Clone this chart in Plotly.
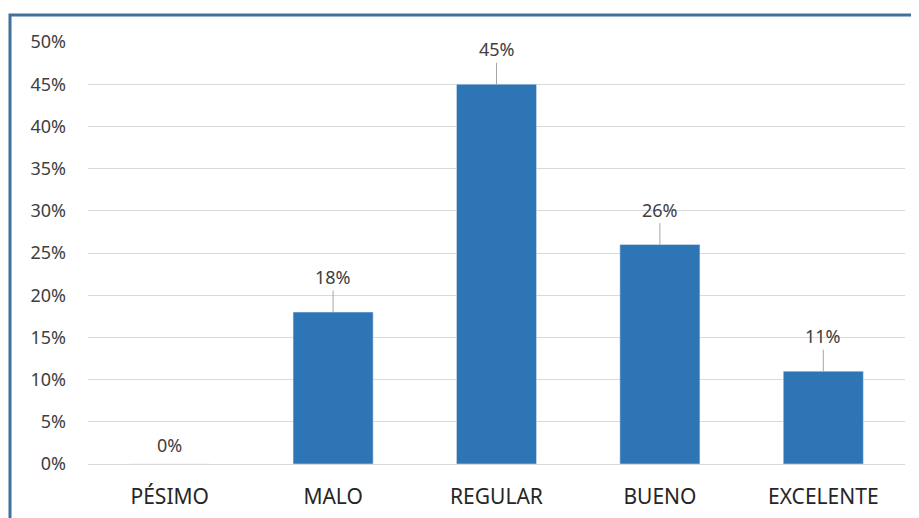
import plotly.graph_objects as go

categories = ["PÉSIMO", "MALO", "REGULAR", "BUENO", "EXCELENTE"]
values = [0.0, 0.18, 0.45, 0.26, 0.11]
tick_vals = [0, 0.05, 0.10, 0.15, 0.20, 0.25, 0.30, 0.35, 0.40, 0.45, 0.50]
tick_text = ["0%", "5%", "10%", "15%", "20%", "25%", "30%", "35%", "40%", "45%", "50%"]

# page has an 8px body offset
OFF = 8
W, H = 919 - OFF, 518 - OFF
ml, mr, mt, mb = 88 - OFF, 14, 42 - OFF, 54
pw, ph = W - ml - mr, H - mt - mb

FONT = "Noto Sans, Open Sans, sans-serif"

fig = go.Figure()
fig.add_trace(go.Bar(
    x=categories, y=values, marker_color="#2E75B6", width=0.49,
    hoverinfo="skip"))

annotations = []
for c, v in zip(categories, values):
    label = f"{round(v * 100)}%"
    if v > 0:
        annotations.append(dict(
            x=c, y=v, xref="x", yref="y", text=label, showarrow=True,
            arrowhead=0, arrowwidth=1, arrowcolor="#A6A6A6", ax=0, ay=-35,
            standoff=0, font=dict(family=FONT, size=18, color="#404040")))
    else:
        annotations.append(dict(
            x=c, y=v, xref="x", yref="y", text=label, showarrow=False,
            yshift=19, font=dict(family=FONT, size=18, color="#404040")))

fig.update_layout(
    width=W, height=H,
    margin=dict(l=ml, r=mr, t=mt, b=mb),
    paper_bgcolor="white", plot_bgcolor="white",
    showlegend=False,
    bargap=0.51,
    annotations=annotations,
    font=dict(family=FONT, color="#404040"),
    xaxis=dict(
        tickfont=dict(family=FONT, size=21, color="#262626"), showgrid=False,
        showline=False, ticks="", ticklabelstandoff=18, automargin=False,
        fixedrange=True),
    yaxis=dict(
        range=[0, 0.5], tickvals=tick_vals, ticktext=tick_text,
        tickfont=dict(family=FONT, size=18, color="#404040"), showgrid=True,
        gridcolor="#D9D9D9", gridwidth=1, zeroline=True,
        zerolinecolor="#D9D9D9", zerolinewidth=1, ticks="",
        ticklabelstandoff=21, automargin=False, fixedrange=True),
    shapes=[dict(
        type="rect", xref="paper", yref="paper",
        x0=(10 - OFF - ml) / pw, x1=(W + 20 - ml) / pw,
        y0=-(mb + 20) / ph, y1=1 + (mt - (15 - OFF)) / ph,
        line=dict(color="#41719C", width=3), fillcolor="rgba(0,0,0,0)", layer="below")],
)

fig.write_html("out.html")
